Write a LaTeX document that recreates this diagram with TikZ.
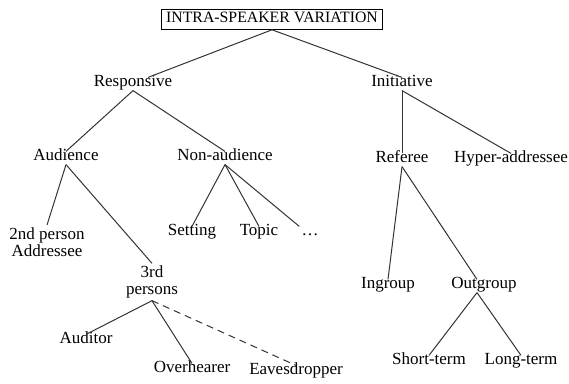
\documentclass[tikz,border=0pt]{standalone}
\usepackage{fontspec}
\setmainfont{Liberation Serif}
\usetikzlibrary{positioning}

\begin{document}
\begin{tikzpicture}[x=1pt,y=-1pt,lbl/.style={inner sep=2pt,text height=.68em,text depth=.2em,font=\fontsize{17}{19}\selectfont},twoline/.style={inner sep=2pt,align=center,font=\fontsize{17}{17.5}\selectfont},topbox/.style={draw,line width=1pt,inner xsep=4.5pt,inner ysep=6.5pt,text height=.66em,text depth=0pt,font=\fontsize{15.8}{19}\selectfont},branch/.style={line width=1pt,draw=black!80},maybe/.style={branch,dash pattern=on 7pt off 5pt}]
\useasboundingbox(0,0)rectangle(569,383);

% Top of the tree
\node[topbox](root)at(272,19.5){INTRA-SPEAKER VARIATION};
\node[lbl](resp)at(133,84){Responsive};
\node[lbl](init)at(402,84){Initiative};

% Responsive branch
\node[lbl](aud)at(66,158){Audience};
\node[lbl](nonaud)at(225,158){Non-audience};
\node[twoline](addr)at(47,242){2nd person\\Addressee};
\node[lbl](setting)at(192,233){Setting};
\node[lbl](topic)at(259,233){Topic};
\node[lbl](more)at(310,233){\dots};
\node[twoline](third)at(152,282){3rd\\persons};
\node[lbl](auditor)at(86,341){Auditor};
\node[lbl](over)at(192,370){Overhearer};
\node[lbl](eaves)at(296,372){Eavesdropper};

% Initiative branch
\node[lbl](ref)at(402,160){Referee};
\node[lbl](hyper)at(511,160){Hyper-addressee};
\node[lbl](ingrp)at(388,286){Ingroup};
\node[lbl](outgrp)at(484,286){Outgroup};
\node[lbl](short)at(429,362){Short-term};
\node[lbl](long)at(521,362){Long-term};

\draw[branch](root.south)--([xshift=15pt]resp.north);
\foreach \a/\b in {root/init,resp/aud,resp/nonaud,aud/addr,aud/third,nonaud/setting,nonaud/topic,third/auditor,third/over,init/ref,init/hyper,ref/ingrp}{
 \draw[branch](\a.south)--(\b.north);
}
\draw[branch](nonaud.south)--(more.north west);
\draw[branch](ref.south)--([xshift=-7pt]outgrp.north);
\foreach \b in {short,long}{
 \draw[branch]([xshift=-7pt]outgrp.south)--(\b.north);
}
\draw[maybe](third.south)--(eaves.north);
\end{tikzpicture}
\end{document}
